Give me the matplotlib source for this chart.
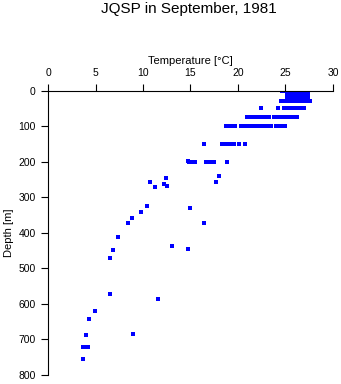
import matplotlib
matplotlib.use("Agg")
import matplotlib.pyplot as plt

plt.rcParams['font.family'] = ['Liberation Sans', 'DejaVu Sans']

# temperature readings [degC] grouped by standard depth [m]
depth_0 = [24.6, 25.0, 25.25, 25.5, 25.75, 26.0, 26.25, 26.4, 26.8, 27.0, 27.2]
depth_10 = [25.2, 25.45, 25.7, 25.95, 26.2, 26.5, 26.9, 27.15, 27.4]
depth_20 = [25.2, 25.45, 25.7, 25.95, 26.2, 26.45, 26.7, 27.0, 27.2, 27.4]
depth_30 = [24.5, 24.8, 25.0, 25.3, 25.5, 25.75, 26.0, 26.25, 26.5, 26.7,
            26.9, 27.15, 27.4, 27.6]
depth_50 = [22.45, 24.25, 24.8, 25.05, 25.3, 25.55, 25.8, 26.05, 26.3, 26.55,
            26.8, 27.0]
depth_75 = [21.0, 21.25, 21.5, 21.75, 22.0, 22.2, 22.6, 22.85, 23.1, 23.3,
            23.8, 24.05, 24.3, 24.55, 24.8, 25.05, 25.3, 25.55, 25.8, 25.9, 26.25]
depth_100 = [18.7, 18.95, 19.2, 19.45, 19.7, 20.3, 20.55, 20.8, 21.05, 21.2,
             21.4, 21.65, 21.9, 22.15, 22.4, 22.65, 22.9, 23.15, 23.4, 23.5,
             24.05, 24.4, 24.65, 24.9, 25.0]
depth_150 = [16.45, 18.3, 18.55, 18.8, 19.05, 19.3, 19.6, 20.1, 20.7]
depth_200 = [14.8, 15.1, 15.45, 16.6, 16.85, 17.1, 17.35, 17.5, 18.8]

# deeper casts, individual (temperature, depth) pairs
deep_temp = [14.7, 18.0, 17.7, 12.4, 10.7, 12.2, 12.5, 11.3, 10.4, 9.8, 14.9,
             8.8, 8.4, 16.4, 7.4, 13.1, 14.75, 6.8, 6.5, 6.5, 11.6, 4.9, 4.3,
             3.96, 8.9, 3.65, 3.9, 4.2, 3.65]
deep_depth = [198, 241, 258, 245, 258, 264, 269, 271, 325, 342, 331,
              359, 373, 373, 412, 436, 446, 449, 471, 571, 586, 620, 642,
              687, 684, 721, 721, 721, 754]

levels = [(0, depth_0), (11, depth_10), (20, depth_20), (30, depth_30),
          (50, depth_50), (75, depth_75), (100, depth_100),
          (150, depth_150), (200, depth_200)]

temps = []
depths = []
for d, ts in levels:
    temps += ts
    depths += [d] * len(ts)
temps += deep_temp
depths += deep_depth

fig = plt.figure(figsize=(3.41, 3.84), dpi=100)
ax = fig.add_axes([0.1408, 0.0234, 0.8357, 0.7409])

ax.plot(temps, depths, linestyle='none', marker='s', markersize=2.2,
        color='#0000ff', markeredgewidth=0)

ax.set_xlim(0, 30)
ax.set_ylim(800, 0)
ax.set_xticks(range(0, 31, 5))
ax.set_yticks(range(0, 801, 100))
ax.xaxis.tick_top()
ax.xaxis.set_label_position('top')
ax.tick_params(axis='both', direction='out', length=5, width=0.8,
               labelsize=7.5, pad=4)
ax.spines['right'].set_visible(False)
ax.spines['bottom'].set_visible(False)
ax.spines['top'].set_linewidth(0.8)
ax.spines['left'].set_linewidth(0.8)
ax.set_xlabel('Temperature [°C]', fontsize=8, labelpad=3)
ax.set_ylabel('Depth [m]', fontsize=8, labelpad=3)

fig.text(0.553, 1 - 13.5 / 384, 'JQSP in September, 1981', ha='center',
         va='baseline', fontsize=11)

fig.savefig('out.png', dpi=100)
